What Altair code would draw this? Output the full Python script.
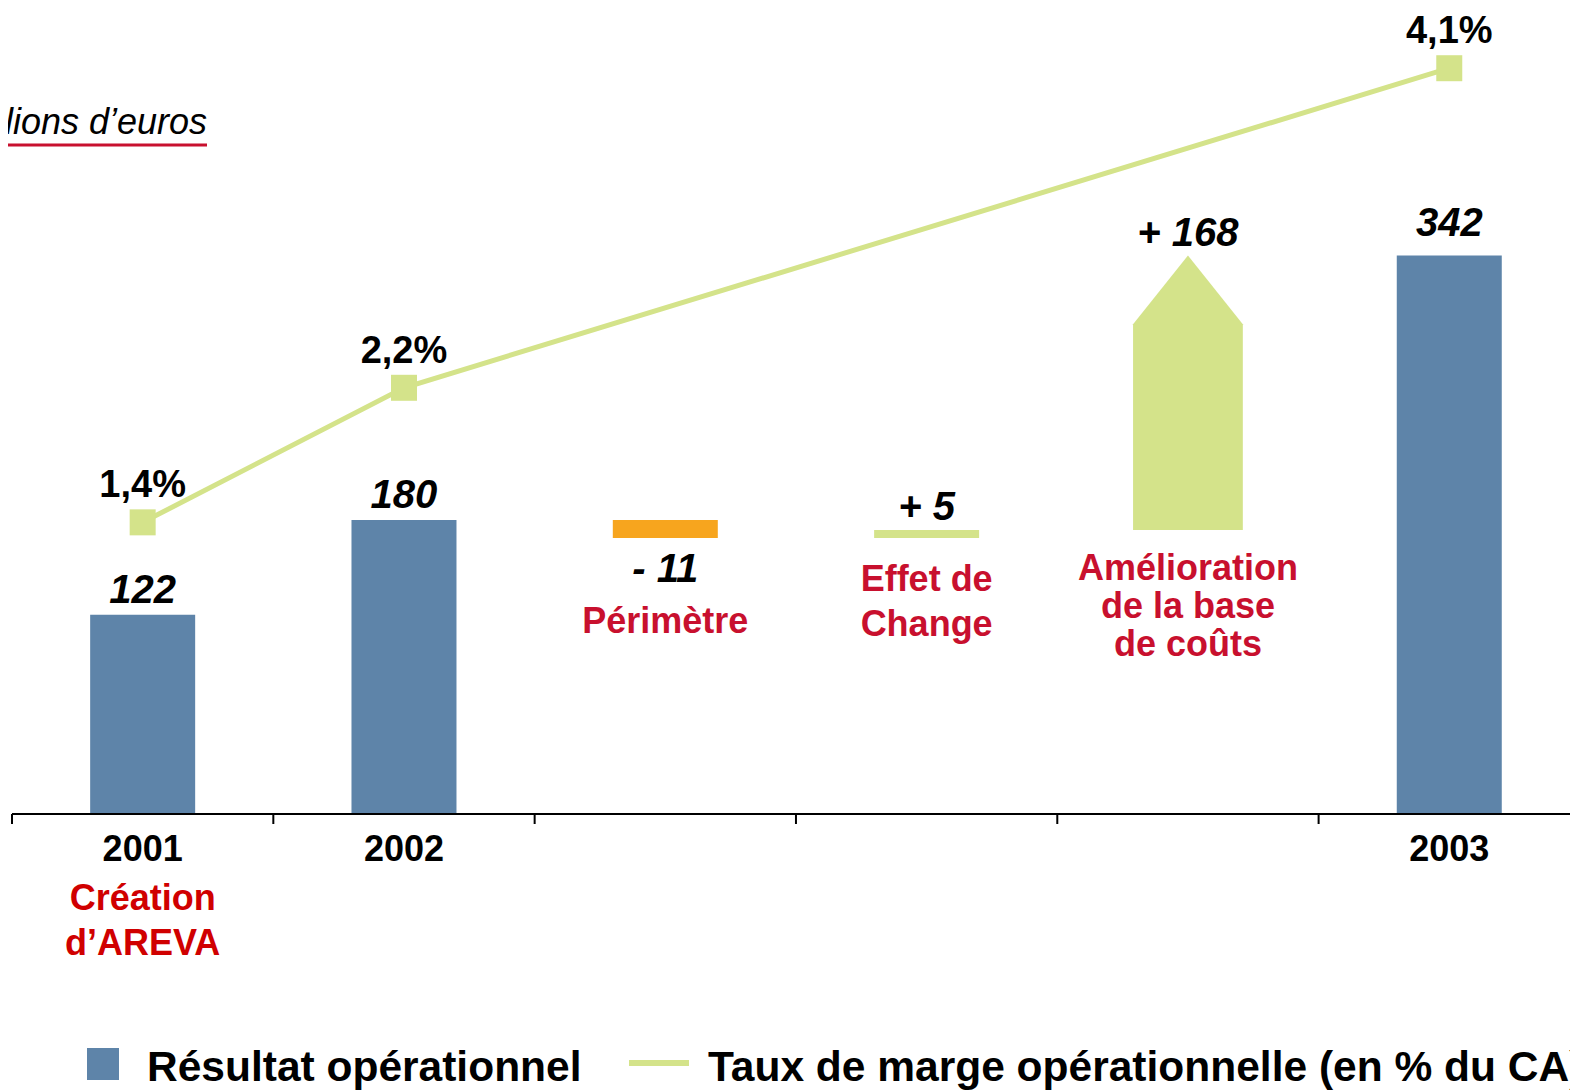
import altair as alt
import pandas as pd

# ---------------- data ----------------
years = ["2001", "2002", "2003"]
year_idx = [0, 1, 5]
resultat = [122, 180, 342]
marge_pct = [1.4, 2.2, 4.1]
marge_labels = ["1,4%", "2,2%", "4,1%"]
creation_note = "Création\nd’AREVA"

step_names = ["Périmètre", "Effet de\nChange", "Amélioration\nde la base\nde coûts"]
step_idx = [2, 3, 4]
step_delta = [-11, 5, 168]

subtitle = "En millions d’euros"
legend_labels = ["Résultat opérationnel", "Taux de marge opérationnelle (en % du CA)"]
axis_ticks = [-0.5, 0.5, 1.5, 2.5, 3.5, 4.5]

# ---------------- styles ----------------
FONT = "Liberation Sans"
BLUE = "#5E84A9"
GREEN = "#D4E38A"
ORANGE = "#F7A51E"
CRIMSON = "#C8102E"
RED = "#D00000"
BAR_PX = 105
ARROW_HALF = 0.21
ARROW_HEAD = 42
W, H = 1558, 806
LEG_Y = 1073  # legend text baseline (plot px)

# ---------------- tables ----------------
df_res = pd.DataFrame({"idx": year_idx, "year": years, "value": resultat,
                       "pct": marge_pct, "pct_label": marge_labels})

rows = []
running = resultat[1]
for i, d, n in zip(step_idx, step_delta, step_names):
    rows.append({"idx": i, "y0": running, "y1": running + d, "delta": d, "name": n,
                 "label": f"{'+' if d > 0 else '-'} {abs(d)}",
                 "hi": max(running, running + d), "lo": min(running, running + d)})
    running += d
df_steps = pd.DataFrame(rows)
df_flat = df_steps.iloc[:2]
last = df_steps.iloc[2]
df_arrow = pd.DataFrame({
    "idx": [last["idx"] - ARROW_HALF, last["idx"], last["idx"] + ARROW_HALF],
    "top": [last["hi"] - ARROW_HEAD, last["hi"], last["hi"] - ARROW_HEAD],
    "bot": [last["lo"]] * 3,
})
df_ticks = pd.DataFrame({"idx": axis_ticks})

xscale = alt.Scale(domain=[-0.5, 5.462], nice=False, zero=False, padding=0)
yL = alt.Scale(domain=[0, 493.6], nice=False, zero=False, padding=0)
yR = alt.Scale(domain=[-0.334, 4.458], nice=False, zero=False, padding=0)

Xn = alt.X("idx:Q", scale=xscale, axis=None)

bars = alt.Chart(df_res).mark_bar(size=BAR_PX, color=BLUE).encode(
    x=Xn, y=alt.Y("value:Q", scale=yL, axis=None))

steps = alt.Chart(df_flat).mark_bar(size=BAR_PX).encode(
    x=Xn, y=alt.Y("y0:Q", scale=yL, axis=None), y2="y1:Q",
    color=alt.condition(alt.datum.delta < 0, alt.value(ORANGE), alt.value(GREEN)))

arrow = alt.Chart(df_arrow).mark_area(color=GREEN, interpolate="linear").encode(
    x=Xn, y=alt.Y("top:Q", scale=yL, axis=None), y2="bot:Q")

# x axis (baseline + category separators)
axis_line = alt.Chart(df_ticks.iloc[[0]]).mark_rule(color="black", strokeWidth=2).encode(
    x=alt.value(0), x2=alt.value(W), y=alt.value(H))
axis_tk = alt.Chart(df_ticks).mark_rule(color="black", strokeWidth=2).encode(
    x=Xn, y=alt.value(H), y2=alt.value(H + 10))

line = alt.Chart(df_res).mark_line(color=GREEN, strokeWidth=5).encode(
    x=Xn, y=alt.Y("pct:Q", scale=yR, axis=None))
pts = alt.Chart(df_res).mark_point(shape="square", size=676, filled=True, opacity=1,
                                   color=GREEN).encode(
    x=Xn, y=alt.Y("pct:Q", scale=yR, axis=None))

txt = dict(font=FONT, fontWeight="bold")

val_lo = alt.Chart(df_res).transform_filter(alt.datum.value < 300).mark_text(
    fontSize=40, fontStyle="italic", dy=-12, baseline="alphabetic", color="black", **txt).encode(
    x=Xn, y=alt.Y("value:Q", scale=yL, axis=None), text="value:N")
val_hi = alt.Chart(df_res).transform_filter(alt.datum.value >= 300).mark_text(
    fontSize=40, fontStyle="italic", dy=-20, baseline="alphabetic", color="black", **txt).encode(
    x=Xn, y=alt.Y("value:Q", scale=yL, axis=None), text="value:N")

pos_lab = alt.Chart(df_steps).transform_filter(alt.datum.delta > 0).mark_text(
    fontSize=40, fontStyle="italic", dy=-10, baseline="alphabetic", color="black", **txt).encode(
    x=Xn, y=alt.Y("hi:Q", scale=yL, axis=None), text="label:N")
neg_lab = alt.Chart(df_steps).transform_filter(alt.datum.delta < 0).mark_text(
    fontSize=40, fontStyle="italic", dy=12, baseline="top", color="black", **txt).encode(
    x=Xn, y=alt.Y("lo:Q", scale=yL, axis=None), text="label:N")

pct_lab = alt.Chart(df_res).mark_text(fontSize=38, dy=-25, baseline="alphabetic",
                                      color="black", **txt).encode(
    x=Xn, y=alt.Y("pct:Q", scale=yR, axis=None), text="pct_label:N")

year_lab = alt.Chart(df_res).mark_text(fontSize=36, baseline="alphabetic", color="black",
                                       **txt).encode(
    x=Xn, y=alt.value(853), text="year:N")

creation = alt.Chart(pd.DataFrame({"idx": [year_idx[0]], "t": [creation_note]})).mark_text(
    fontSize=36, baseline="alphabetic", color=RED, lineBreak="\n", lineHeight=45, **txt).encode(
    x=Xn, y=alt.value(902), text="t:N")

name_layers = []
for k, (ypx, lh) in enumerate([(625, 45), (583, 45), (572, 38)]):
    name_layers.append(
        alt.Chart(df_steps.iloc[[k]]).mark_text(
            fontSize=36, baseline="alphabetic", color=CRIMSON, lineBreak="\n",
            lineHeight=lh, **txt).encode(x=Xn, y=alt.value(ypx), text="name:N"))

sub_df = pd.DataFrame({"t": [subtitle]})
sub = alt.Chart(sub_df).mark_text(fontSize=36, fontStyle="italic", align="right",
                                  baseline="alphabetic", font=FONT, color="black").encode(
    x=alt.value(195), y=alt.value(126), text="t:N")
sub_rule = alt.Chart(sub_df).mark_rule(color=CRIMSON, strokeWidth=3).encode(
    x=alt.value(-4), x2=alt.value(195), y=alt.value(137))

leg_df = pd.DataFrame({"a": [legend_labels[0]], "b": [legend_labels[1]]})
leg_sq = alt.Chart(leg_df).mark_point(shape="square", size=1024, filled=True, opacity=1,
                                      color=BLUE).encode(x=alt.value(91), y=alt.value(LEG_Y - 17))
leg_t1 = alt.Chart(leg_df).mark_text(fontSize=42.5, align="left", baseline="alphabetic",
                                     color="black", **txt).encode(
    x=alt.value(135), y=alt.value(LEG_Y), text="a:N")
leg_ln = alt.Chart(leg_df).mark_rule(color=GREEN, strokeWidth=6).encode(
    x=alt.value(617), x2=alt.value(677), y=alt.value(LEG_Y - 18))
leg_t2 = alt.Chart(leg_df).mark_text(fontSize=42.5, align="left", baseline="alphabetic",
                                     color="black", **txt).encode(
    x=alt.value(696), y=alt.value(LEG_Y), text="b:N")

chart = alt.layer(
    bars, steps, arrow, axis_line, axis_tk, line, pts, val_lo, val_hi, pos_lab, neg_lab,
    pct_lab, year_lab, creation, *name_layers, sub, sub_rule, leg_sq, leg_t1, leg_ln, leg_t2
).resolve_scale(y="independent").properties(
    width=W, height=H,
    padding={"left": 4, "right": 0, "top": 0, "bottom": 276},
    autosize=alt.AutoSizeParams(type="none"),
    background="white",
).configure_view(stroke=None)

chart.save("out.html", embed_options={"renderer": "svg", "actions": False})
